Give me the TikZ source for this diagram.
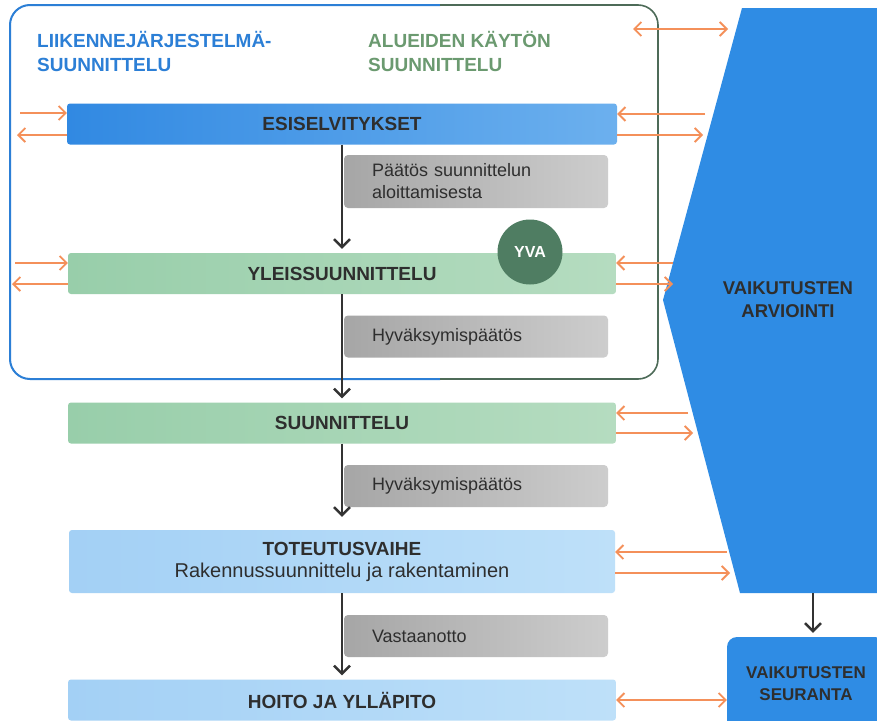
\documentclass[tikz,border=0pt]{standalone}
\usepackage{fontspec}
\setmainfont{Liberation Sans}
\usetikzlibrary{arrows.meta,positioning}
\definecolor{hblue}{HTML}{2C7FD6}
\definecolor{hgreen}{HTML}{6B9A70}
\definecolor{boxgrn}{HTML}{4D6B58}
\definecolor{txt}{HTML}{2E2E2E}
\definecolor{esiL}{HTML}{3189E2}
\definecolor{esiR}{HTML}{6CB0EE}
\definecolor{grnL}{HTML}{98CEAA}
\definecolor{grnR}{HTML}{B5DCC0}
\definecolor{ltL}{HTML}{A3D0F5}
\definecolor{ltR}{HTML}{BEE0F9}
\definecolor{gryL}{HTML}{A6A6A6}
\definecolor{gryR}{HTML}{CDCDCD}
\definecolor{ablue}{HTML}{2F8CE4}
\definecolor{yva}{HTML}{4F7D62}
\definecolor{orng}{HTML}{F4905A}
\definecolor{flowc}{HTML}{333333}
\tikzset{
>={Straight Barb[length=7pt,width=14pt]},
bar/.style={rectangle,rounded corners=3pt,minimum height=41pt,inner sep=0pt,
  font=\bfseries\fontsize{19}{22}\selectfont,text=txt,align=center},
bluebar/.style={bar,left color=esiL,right color=esiR},
greenbar/.style={bar,left color=grnL,right color=grnR},
lightbar/.style={bar,left color=ltL,right color=ltR},
note/.style={rectangle,rounded corners=4pt,minimum height=42pt,text width=208pt,
  inner xsep=28pt,align=left,left color=gryL,right color=gryR,
  font=\fontsize{18}{22}\selectfont,text=txt},
head/.style={anchor=north west,inner sep=0pt,align=left,
  font=\bfseries\fontsize{19}{24}\selectfont},
flow/.style={->,line width=2.4pt,draw=flowc,shorten >=4pt,
  >={Straight Barb[length=8pt,width=16pt]}},
oarr/.style={line width=1.8pt,draw=orng}
}

\begin{document}
\begin{tikzpicture}[x=1pt,y=-1pt]
\useasboundingbox (0,0) rectangle (877,720);
\clip (0,0) rectangle (877,720);
\fill[white] (0,0) rectangle (877,720);

% planning frame
\draw[hblue,line width=2pt,rounded corners=20pt] (440,5) -- (10,5) -- (10,379) -- (440,379);
\draw[boxgrn,line width=1.6pt,rounded corners=20pt] (440,5) -- (658,5) -- (658,379) -- (440,379);
\node[head,text=hblue]  (lj) at (37,31) {LIIKENNEJÄRJESTELMÄ-\\SUUNNITTELU};
\node[head,text=hgreen] (ak) at (368,31) {ALUEIDEN KÄYTÖN\\SUUNNITTELU};

% impact assessment
\coordinate (a1) at (742,8);
\coordinate (a2) at (900,8);
\coordinate (a3) at (900,593);
\coordinate (a4) at (740,593);
\coordinate (a5) at (663,300);
\fill[ablue] (a1) -- (a2) -- (a3) -- (a4) -- (a5) -- cycle;
\node[font=\bfseries\fontsize{18.5}{23}\selectfont,text=txt,align=center] (arvio) at (788,300) {VAIKUTUSTEN\\ARVIOINTI};
\node[rectangle,rounded corners=10pt,fill=ablue,minimum width=158pt,minimum height=94pt,
  font=\bfseries\fontsize{17}{22}\selectfont,text=txt,align=center] (seur) at (806,684) {VAIKUTUSTEN\\SEURANTA};
\coordinate (abot) at (813,593);
\draw[flow] (abot) -- (seur.north -| abot);

% phases
\node[bluebar,minimum width=550pt]  (esi)   at (342,124)   {ESISELVITYKSET};
\node[greenbar,minimum width=548pt] (yleis) at (342,273.5) {YLEISSUUNNITTELU};
\node[greenbar,minimum width=548pt] (suun)  at (342,423)   {SUUNNITTELU};
\node[lightbar,minimum width=546pt,minimum height=63pt] (tot) at (342,561.5)
  {TOTEUTUSVAIHE\\{\mdseries\fontsize{20}{22}\selectfont Rakennussuunnittelu ja rakentaminen}};
\node[lightbar,minimum width=548pt] (hoito) at (342,700) {HOITO JA YLLÄPITO};

\node[note,minimum height=53pt] (p1) at (476,181.5) {Päätös suunnittelun\\aloittamisesta};
\node[note] (p2) at (476,336.5) {Hyväksymispäätös};
\node[note] (p3) at (476,486)   {Hyväksymispäätös};
\node[note] (p4) at (476,636)   {Vastaanotto};

\node[circle,fill=yva,minimum size=65pt,inner sep=0pt,text=white,
  font=\bfseries\fontsize{16}{18}\selectfont] (yvaN) at (530,252) {YVA};

\path[flow] (esi) edge (yleis)
            (yleis) edge (suun)
            (suun) edge[shorten >=13pt] (tot)
            (tot) edge (hoito);

% interaction arrows
\coordinate (l1) at (20,113);
\coordinate (l2) at (17,135);
\coordinate (l3) at (15,263);
\coordinate (l4) at (12,284);
\coordinate (t1) at (633,29);
\coordinate (t2) at (728,29);
\coordinate (r1) at (705,114);
\coordinate (r2) at (703,135);
\coordinate (r3) at (673,263);
\coordinate (r4) at (673,284);
\coordinate (r5) at (688,413);
\coordinate (r6) at (693,433);
\coordinate (r7) at (727,552);
\coordinate (r8) at (730,573);

\draw[oarr,->] (l1) -- (esi.west |- l1);
\draw[oarr,->] (esi.west |- l2) -- (l2);
\draw[oarr,->] (l3) -- (yleis.west |- l3);
\draw[oarr,->] (yleis.west |- l4) -- (l4);
\draw[oarr,<->] (t1) -- (t2);
\draw[oarr,->] (r1) -- (esi.east |- r1);
\draw[oarr,->] (esi.east |- r2) -- (r2);
\draw[oarr,->] (r3) -- (yleis.east |- r3);
\draw[oarr,->] (yleis.east |- r4) -- (r4);
\draw[oarr,->] (r5) -- (suun.east |- r5);
\draw[oarr,->] (suun.east |- r6) -- (r6);
\draw[oarr,->] (r7) -- (tot.east |- r7);
\draw[oarr,->] (tot.east |- r8) -- (r8);
\draw[oarr,<->] (hoito.east) -- (seur.west |- hoito.east);
\end{tikzpicture}
\end{document}
